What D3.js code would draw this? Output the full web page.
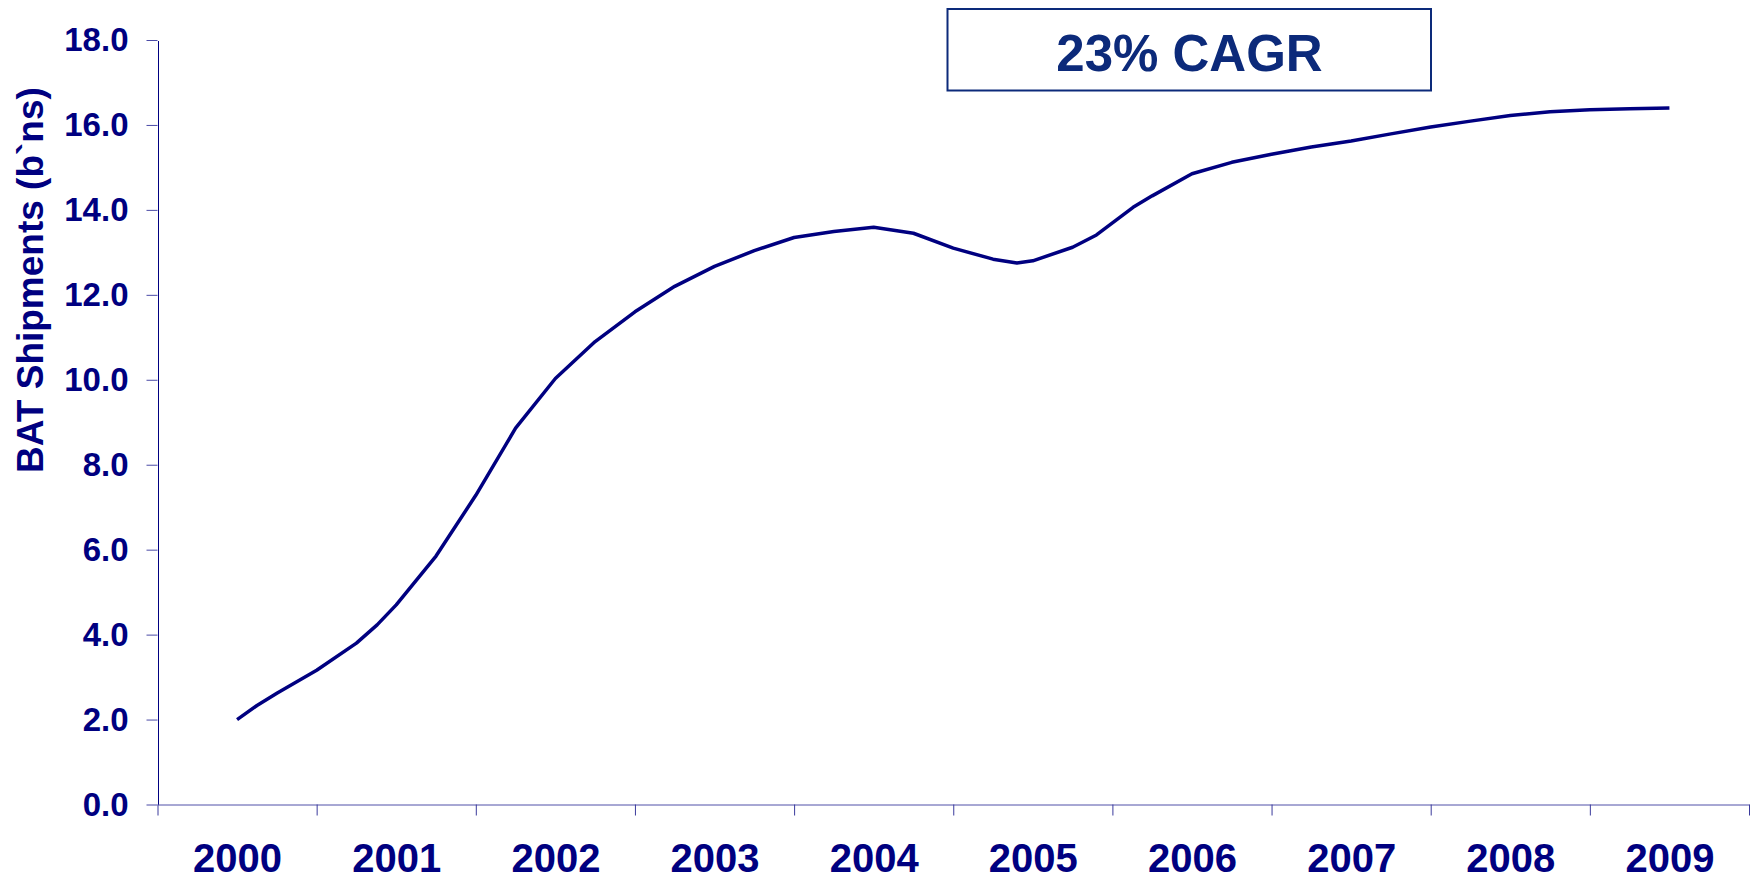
<!DOCTYPE html>
<html>
<head>
<meta charset="utf-8">
<script src="https://cdn.jsdelivr.net/npm/d3@7"></script>
<style>
  body { margin: 0; background: #fff; }
  svg { display: block; font-family: "Liberation Sans", Arial, sans-serif; font-weight: bold; }
</style>
</head>
<body>
<svg id="chart"></svg>
<script>
const width = 1752;
const height = 875;

// Data (year position, billions)
const categories = ["2000", "2001", "2002", "2003", "2004", "2005", "2006", "2007", "2008", "2009"];
const periods = [2000, 2000.125, 2000.25, 2000.5, 2000.75, 2000.88, 2001, 2001.25, 2001.5, 2001.75,
                 2002, 2002.25, 2002.5, 2002.75, 2003, 2003.25, 2003.5, 2003.75, 2004, 2004.25,
                 2004.5, 2004.75, 2004.9, 2005, 2005.25, 2005.4, 2005.63, 2005.75, 2006, 2006.25,
                 2006.5, 2006.75, 2007, 2007.25, 2007.5, 2007.75, 2008, 2008.25, 2008.5, 2008.75, 2009];
const shipments = [2.0, 2.33, 2.62, 3.16, 3.80, 4.23, 4.70, 5.85, 7.28, 8.86,
                   10.03, 10.90, 11.60, 12.20, 12.67, 13.04, 13.35, 13.49, 13.59, 13.45,
                   13.10, 12.84, 12.75, 12.80, 13.12, 13.41, 14.06, 14.33, 14.85, 15.12,
                   15.31, 15.48, 15.62, 15.79, 15.95, 16.09, 16.22, 16.31, 16.36, 16.38, 16.40];
const yTicks = [0, 2, 4, 6, 8, 10, 12, 14, 16, 18];
const yTitle = "BAT Shipments (b`ns)";
const cagrLabel = "23% CAGR";

const navy = "#000080";

const svg = d3.select("#chart")
  .attr("width", width)
  .attr("height", height);

// Scales
const x = d3.scaleLinear()
  .domain([1999.5, 2009.5])
  .range([157.5, 1749]);

const y = d3.scaleLinear()
  .domain([0, 18])
  .range([804.5, 40]);

// Y axis
const yAxis = svg.append("g")
  .attr("transform", "translate(157.5,0)")
  .call(d3.axisLeft(y).tickValues(yTicks).tickFormat(d3.format(".1f"))
    .tickSize(11).tickSizeOuter(0).tickPadding(18));
yAxis.select(".domain").attr("stroke", navy).attr("shape-rendering", "crispEdges");
yAxis.selectAll(".tick line").attr("stroke", "#4a4aa6");
yAxis.selectAll("text")
  .attr("fill", navy)
  .style("font-size", "33px")
  .style("font-weight", "bold");

// X axis: ticks between the years
const bounds = d3.range(categories.length + 1).map(i => 1999.5 + i);
const xAxis = svg.append("g")
  .attr("transform", "translate(0,804.5)")
  .call(d3.axisBottom(x).tickValues(bounds).tickFormat("").tickSize(11).tickSizeOuter(0));
xAxis.select(".domain").attr("stroke", "#5050a8");
xAxis.selectAll(".tick line").attr("stroke", "#3a3a9c");

// Year labels at the centres
const xLabels = svg.append("g")
  .attr("transform", "translate(0,804.5)")
  .call(d3.axisBottom(x).tickValues(categories.map(Number)).tickFormat(d3.format("d"))
    .tickSize(0).tickPadding(38.8));
xLabels.select(".domain").remove();
xLabels.selectAll("text")
  .attr("fill", navy)
  .style("font-size", "40px")
  .style("font-weight", "bold");

// Y title
svg.append("text")
  .attr("transform", "translate(42.7,280) rotate(-90)")
  .attr("text-anchor", "middle")
  .attr("fill", navy)
  .style("font-size", "37px")
  .text(yTitle);

// Line
const line = d3.line()
  .x((d, i) => x(periods[i]))
  .y(d => y(d));

svg.append("path")
  .datum(shipments)
  .attr("fill", "none")
  .attr("stroke", navy)
  .attr("stroke-width", 3.5)
  .attr("stroke-linejoin", "round")
  .attr("d", line);

// CAGR box
svg.append("rect")
  .attr("x", 947.5)
  .attr("y", 9)
  .attr("width", 483.5)
  .attr("height", 81.5)
  .attr("fill", "#fff")
  .attr("stroke", "#0c2a7a")
  .attr("stroke-width", 2);

svg.append("text")
  .attr("x", 1189.5)
  .attr("y", 71)
  .attr("text-anchor", "middle")
  .attr("fill", "#0c2a7a")
  .style("font-size", "51px")
  .text(cagrLabel);
</script>
</body>
</html>
